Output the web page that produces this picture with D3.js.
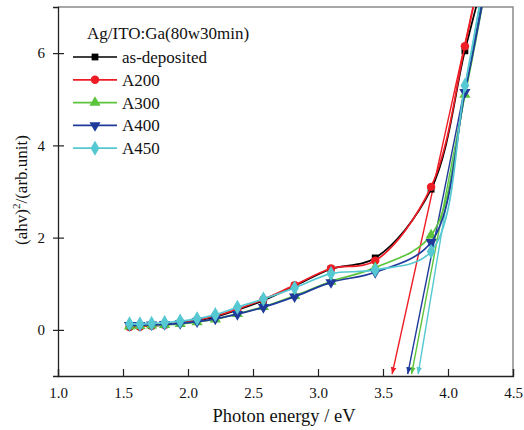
<!DOCTYPE html>
<html>

<head>
    <meta charset="utf-8" />
    <title>Tauc plot</title>
    <script src="https://d3js.org/d3.v7.min.js"></script>
</head>

<body style="margin:0; background:#fff;">

    <div class="chart"></div>

    <script>
        // photon energy of each measured point (eV)
        var energy = [1.55, 1.63, 1.72, 1.82, 1.94, 2.07, 2.21, 2.38, 2.58, 2.82, 3.10, 3.44, 3.87, 4.13, 4.28];

        var asDeposited = [0.07, 0.08, 0.09, 0.11, 0.15, 0.20, 0.28, 0.43, 0.64, 0.95, 1.32, 1.56, 3.05, 6.05, 7.7];
        var a200 = [0.06, 0.07, 0.09, 0.11, 0.15, 0.21, 0.30, 0.45, 0.66, 0.97, 1.33, 1.50, 3.10, 6.15, 8.2];
        var a300 = [0.08, 0.09, 0.10, 0.11, 0.13, 0.17, 0.23, 0.35, 0.50, 0.74, 1.05, 1.35, 2.05, 5.10, 7.3];
        var a400 = [0.10, 0.10, 0.11, 0.12, 0.14, 0.18, 0.24, 0.34, 0.49, 0.72, 1.03, 1.25, 1.90, 5.15, 7.3];
        var a450 = [0.13, 0.13, 0.14, 0.16, 0.19, 0.24, 0.33, 0.49, 0.67, 0.91, 1.22, 1.30, 1.70, 5.30, 7.6];

        // linear extrapolation lines (top x at y=7, foot x on the energy axis)
        var tangentNames = ["A200", "A300", "A400", "A450"];
        var tangentTop = [4.20, 4.265, 4.26, 4.245];
        var tangentFoot = [3.57, 3.72, 3.69, 3.77];

        var xTicks = [1.0, 1.5, 2.0, 2.5, 3.0, 3.5, 4.0, 4.5];
        var yTicks = [0, 2, 4, 6];

        var serif = '"Liberation Serif", "Times New Roman", Times, serif';

        var series = [
            { name: "as-deposited", values: asDeposited, color: "#000000", symbol: d3.symbolSquare, size: 46, rot: 0 },
            { name: "A200", values: a200, color: "#ee1c24", symbol: d3.symbolCircle, size: 56, rot: 0 },
            { name: "A300", values: a300, color: "#5cc43c", symbol: d3.symbolTriangle, size: 54, rot: 0 },
            { name: "A400", values: a400, color: "#1f3a9a", symbol: d3.symbolTriangle, size: 54, rot: 180 },
            { name: "A450", values: a450, color: "#55c8d2", symbol: d3.symbolDiamond, size: 66, rot: 0 }
        ];
        var colorOf = {};
        series.forEach(s => colorOf[s.name] = s.color);

        const w = 524, h = 430;
        const m = { left: 58, right: 11, top: 7, bottom: 54 };

        let svg = d3.select('.chart')
            .append('svg')
            .attr('width', w)
            .attr('height', h)
            .attr('font-family', serif);

        let x = d3.scaleLinear().domain([1.0, 4.5]).range([m.left, w - m.right]);
        let y = d3.scaleLinear().domain([-1, 7]).range([h - m.bottom, m.top]);

        svg.append('defs').append('clipPath').attr('id', 'plot')
            .append('rect')
            .attr('x', m.left).attr('y', m.top)
            .attr('width', w - m.left - m.right)
            .attr('height', h - m.top - m.bottom);

        // arrow head markers for the tangent lines
        tangentNames.forEach(n => {
            svg.select('defs').append('marker')
                .attr('id', 'arrow-' + n)
                .attr('viewBox', '0 0 10 10')
                .attr('refX', 10).attr('refY', 5)
                .attr('markerWidth', 7).attr('markerHeight', 7)
                .attr('markerUnits', 'userSpaceOnUse')
                .attr('orient', 'auto')
                .append('path')
                .attr('d', 'M0,1 L10,5 L0,9 Z')
                .attr('fill', colorOf[n]);
        });

        // frame: top and right grey
        svg.append('path')
            .attr('d', `M${m.left},${m.top}H${w - m.right}V${h - m.bottom}`)
            .attr('fill', 'none').attr('stroke', '#8a8a8a').attr('stroke-width', 1.5);

        // x axis, ticks pointing into the plot
        let xAxis = svg.append('g')
            .attr('transform', `translate(0,${h - m.bottom})`)
            .call(d3.axisBottom(x).tickValues(xTicks).tickSize(-7).tickPadding(11).tickFormat(d3.format('.1f')));
        xAxis.attr('font-family', serif);
        xAxis.select('.domain').attr('stroke', '#222').attr('stroke-width', 1.3);
        xAxis.selectAll('.tick line').attr('stroke', '#222').attr('stroke-width', 1.2);
        xAxis.selectAll('text').attr('font-size', 15).attr('fill', '#111');

        let yAxis = svg.append('g')
            .attr('transform', `translate(${m.left},0)`)
            .call(d3.axisLeft(y).tickValues(yTicks).tickSize(5).tickPadding(8));
        yAxis.attr('font-family', serif);
        yAxis.select('.domain').attr('stroke', '#222').attr('stroke-width', 1.3);
        yAxis.selectAll('.tick line').attr('stroke', '#222').attr('stroke-width', 1.2).attr('x2', 6).attr('x1', -5);
        yAxis.selectAll('text').attr('font-size', 15).attr('fill', '#111');

        svg.append('text')
            .attr('x', 284)
            .attr('y', 422)
            .attr('text-anchor', 'middle')
            .attr('font-size', 18.5)
            .attr('fill', '#111')
            .text('Photon energy / eV');

        let yl = svg.append('text')
            .attr('transform', `translate(27,190) rotate(-90)`)
            .attr('text-anchor', 'middle')
            .attr('font-size', 17)
            .attr('fill', '#111');
        yl.append('tspan').text('(ahv)');
        yl.append('tspan').attr('dy', -7).attr('font-size', 11).text('2');
        yl.append('tspan').attr('dy', 7).text('/(arb.unit)');

        let plot = svg.append('g').attr('clip-path', 'url(#plot)');

        let line = d3.line()
            .x((d, i) => x(energy[i]))
            .y(d => y(d))
            .curve(d3.curveCatmullRom.alpha(0.5));

        // tangent extrapolation lines
        plot.selectAll('line.tangent')
            .data(tangentNames)
            .enter()
            .append('line')
            .attr('class', 'tangent')
            .attr('x1', (d, i) => x(tangentTop[i]))
            .attr('y1', y(7.1))
            .attr('x2', (d, i) => x(tangentFoot[i]))
            .attr('y2', y(-0.96))
            .attr('stroke', d => colorOf[d])
            .attr('stroke-width', 1.4)
            .attr('marker-end', d => 'url(#arrow-' + d + ')');

        series.forEach(s => {
            let g = plot.append('g');
            g.append('path')
                .datum(s.values)
                .attr('d', line)
                .attr('fill', 'none')
                .attr('stroke', s.color)
                .attr('stroke-width', 1.7);
            g.selectAll('path.pt')
                .data(s.values)
                .enter()
                .append('path')
                .attr('class', 'pt')
                .attr('d', d3.symbol().type(s.symbol).size(s.size))
                .attr('transform', (d, i) => `translate(${x(energy[i])},${y(d)}) rotate(${s.rot})`)
                .attr('fill', s.color);
        });

        // legend
        let lg = svg.append('g');
        lg.append('text')
            .attr('x', 87).attr('y', 39)
            .attr('font-size', 17)
            .attr('fill', '#111')
            .text('Ag/ITO:Ga(80w30min)');
        let items = lg.selectAll('g.item')
            .data(series)
            .enter()
            .append('g')
            .attr('class', 'item')
            .attr('transform', (d, i) => `translate(0,${57 + i * 22.8})`);
        items.append('line')
            .attr('x1', 73).attr('x2', 117)
            .attr('stroke', d => d.color).attr('stroke-width', 1.7);
        items.append('path')
            .attr('d', d => d3.symbol().type(d.symbol).size(d.size)())
            .attr('transform', d => `translate(95,0) rotate(${d.rot})`)
            .attr('fill', d => d.color);
        items.append('text')
            .attr('x', 122).attr('y', 6)
            .attr('font-size', 17)
            .attr('fill', '#111')
            .text(d => d.name);
    </script>


</body>

</html>
